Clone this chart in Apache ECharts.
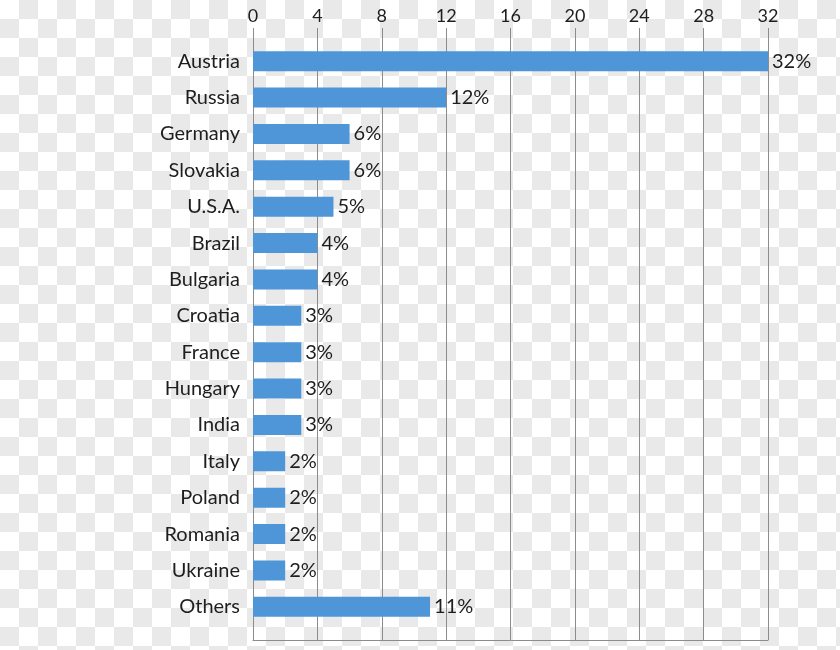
<!DOCTYPE html>
<html>
<head>
<meta charset="utf-8">
<script src="https://cdn.jsdelivr.net/npm/echarts@6/dist/echarts.min.js"></script>
<style>
html,body{margin:0;padding:0;}
body{width:840px;height:650px;background:repeating-conic-gradient(#e9e9e9 0 25%, #ffffff 0 50%) 0 0/38px 38px;}
#c{width:840px;height:650px;}
</style>
</head>
<body>
<div id="c"></div>
<script>
const categories = ["Austria","Russia","Germany","Slovakia","U.S.A.","Brazil","Bulgaria","Croatia","France","Hungary","India","Italy","Poland","Romania","Ukraine","Others"];
const shares = [32,12,6,6,5,4,4,3,3,3,3,2,2,2,2,11];
const axisMin = 0, axisMax = 32, axisStep = 4;

const chart = echarts.init(document.getElementById('c'), null, {renderer:'canvas'});
const font = 'Lato, "Open Sans", sans-serif';
chart.setOption({
  backgroundColor: 'transparent',
  animation: false,
  grid: [
    {left: 253, right: 72, top: 28, bottom: 10},
    {left: 253, right: 72, top: 43, bottom: 25}
  ],
  xAxis: [
    {gridIndex: 0, type: 'value', position: 'top', min: axisMin, max: axisMax, interval: axisStep,
     axisLine: {show: false}, axisTick: {show: false},
     axisLabel: {color: '#1e1e1e', fontSize: 18, fontFamily: font, margin: 3},
     splitLine: {show: true, lineStyle: {color: '#8c8c8c', width: 1}}},
    {gridIndex: 0, type: 'value', position: 'bottom', min: axisMin, max: axisMax, interval: axisStep,
     axisLine: {show: true, onZero: false, lineStyle: {color: '#8c8c8c', width: 1}}, axisTick: {show: false},
     axisLabel: {show: false}, splitLine: {show: false}},
    {gridIndex: 1, type: 'value', min: axisMin, max: axisMax, show: false}
  ],
  yAxis: [
    {gridIndex: 0, type: 'value', show: false, min: 0, max: 1},
    {gridIndex: 1, type: 'category', inverse: true, data: categories,
     axisLine: {show: false}, axisTick: {show: false},
     axisLabel: {color: '#1e1e1e', fontSize: 20, fontFamily: font, margin: 13}}
  ],
  series: [{
    type: 'bar', xAxisIndex: 2, yAxisIndex: 1, data: shares, barWidth: 20,
    itemStyle: {color: '#4f96d8'},
    label: {show: true, position: 'right', distance: 4, formatter: '{c}%', color: '#1e1e1e', fontSize: 20, fontFamily: font}
  }]
});
</script>
</body>
</html>
